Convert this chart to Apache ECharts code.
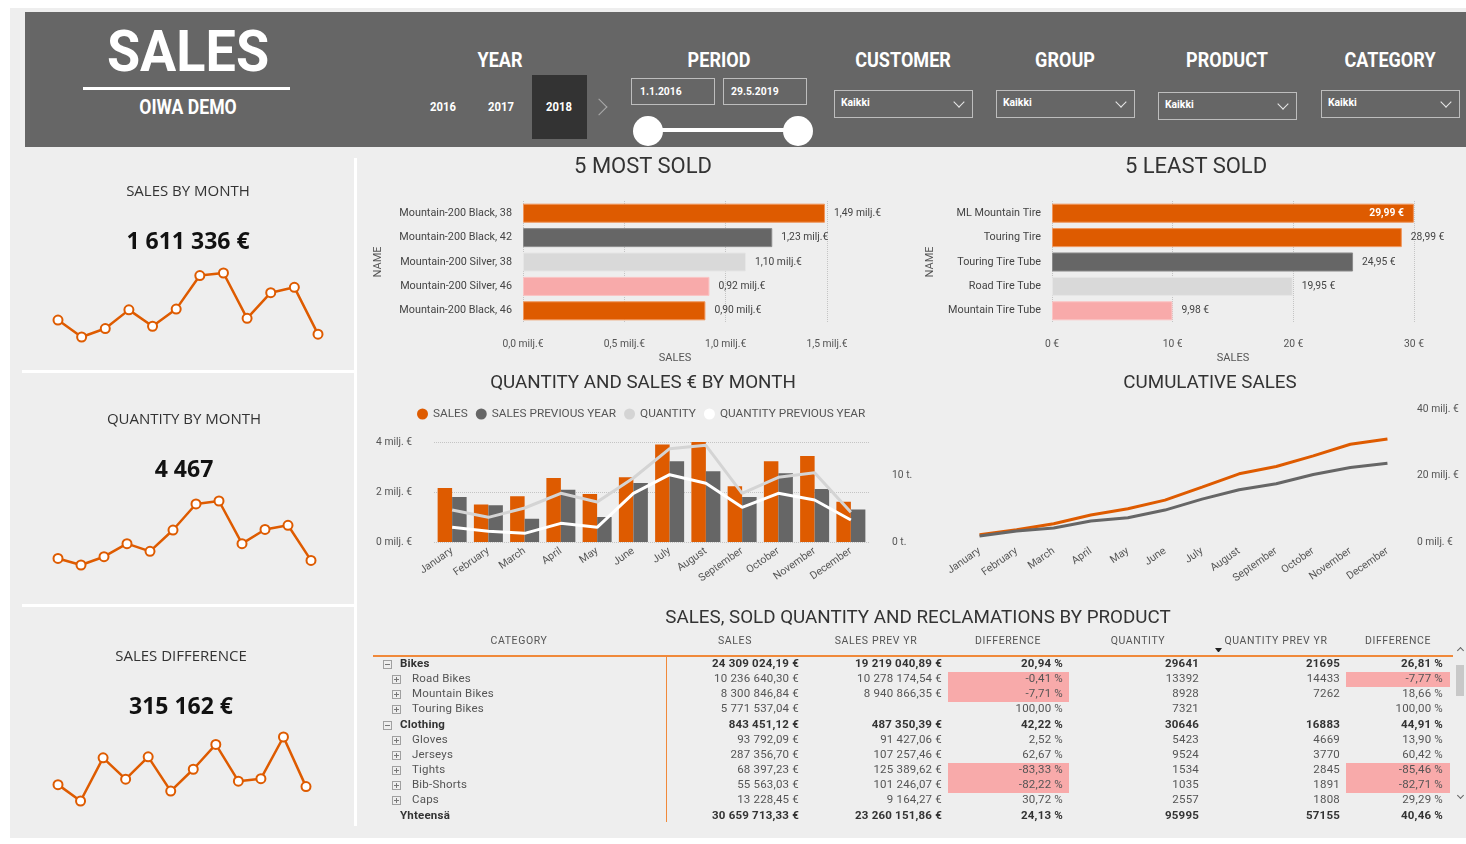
<!DOCTYPE html>
<html>
<head>
<meta charset="utf-8">
<title>SALES - OIWA DEMO</title>
<script src="https://cdn.jsdelivr.net/npm/echarts@6/dist/echarts.min.js"></script>
<style>
  html, body { margin: 0; padding: 0; background: #fff; }
  #page { position: relative; width: 1466px; height: 844px; overflow: hidden; font-family: Roboto, sans-serif; }
  #bg { position: absolute; left: 10px; top: 8px; width: 1456px; height: 830px; background: #eeeeee; }
  #chart { position: absolute; left: 0; top: 0; width: 1466px; height: 844px; }
  #overlay { position: absolute; left: 0; top: 0; width: 1466px; height: 844px; pointer-events: none; }
  .t { position: absolute; white-space: nowrap; line-height: 1; }
  .b { position: absolute; box-sizing: border-box; }
</style>
</head>
<body>
<div id="page">
  <div id="bg"></div>
  <div id="chart"></div>
  <div id="overlay"></div>
</div>
<script>
// ---- data ----
var months = ['January', 'February', 'March', 'April', 'May', 'June',
  'July', 'August', 'September', 'October', 'November', 'December'];

// milj. €
var salesByMonth = [2.16, 1.50, 1.83, 2.56, 1.92, 2.59, 3.90, 4.00, 2.23, 3.23, 3.44, 1.61];
var salesPrevByMonth = [1.80, 1.47, 0.93, 2.09, 1.00, 2.36, 3.23, 2.83, 1.80, 2.75, 2.12, 1.30];
var salesDiffByMonth = [0.36, 0.03, 0.90, 0.47, 0.92, 0.23, 0.67, 1.17, 0.43, 0.48, 1.32, 0.32];
// thousand pcs
var qtyByMonth = [4.8, 3.7, 5.1, 7.3, 6.0, 9.6, 14.0, 14.5, 7.3, 9.7, 10.4, 4.47];
var qtyPrevByMonth = [2.2, 1.6, 1.3, 2.8, 2.2, 7.3, 10.1, 8.8, 5.2, 7.3, 6.3, 3.3];
// milj. €
var cumSales = [2.2, 3.7, 5.5, 8.1, 10.0, 12.6, 16.5, 20.5, 22.7, 25.9, 29.4, 31.0];
var cumSalesPrev = [1.8, 3.3, 4.2, 6.3, 7.3, 9.6, 12.9, 15.7, 17.5, 20.3, 22.4, 23.7];

var mostSoldNames = ['Mountain-200 Black, 38', 'Mountain-200 Black, 42', 'Mountain-200 Silver, 38',
  'Mountain-200 Silver, 46', 'Mountain-200 Black, 46'];
var mostSoldValues = [1.49, 1.23, 1.10, 0.92, 0.90];
var leastSoldNames = ['ML Mountain Tire', 'Touring Tire', 'Touring Tire Tube', 'Road Tire Tube', 'Mountain Tire Tube'];
var leastSoldValues = [29.99, 28.99, 24.95, 19.95, 9.98];

var kpiTitles = ['SALES BY MONTH', 'QUANTITY BY MONTH', 'SALES DIFFERENCE'];
var kpiValues = ['1 611 336 €', '4 467', '315 162 €'];

var tableHeaders = ['CATEGORY', 'SALES', 'SALES PREV YR', 'DIFFERENCE', 'QUANTITY', 'QUANTITY PREV YR', 'DIFFERENCE'];
var tableRows = ['Bikes', 'Road Bikes', 'Mountain Bikes', 'Touring Bikes', 'Clothing', 'Gloves',
  'Jerseys', 'Tights', 'Bib-Shorts', 'Caps', 'Yhteensä'];
var tableLevel = [0, 1, 1, 1, 0, 1, 1, 1, 1, 1, 2];   // 2 = total row
var tableSales = [24309024.19, 10236640.30, 8300846.84, 5771537.04, 843451.12, 93792.09,
  287356.70, 68397.23, 55563.03, 13228.45, 30659713.33];
var tableSalesPrev = [19219040.89, 10278174.54, 8940866.35, null, 487350.39, 91427.06,
  107257.46, 125389.62, 101246.07, 9164.27, 23260151.86];
var tableSalesDiff = [20.94, -0.41, -7.71, 100.00, 42.22, 2.52, 62.67, -83.33, -82.22, 30.72, 24.13];
var tableQty = [29641, 13392, 8928, 7321, 30646, 5423, 9524, 1534, 1035, 2557, 95995];
var tableQtyPrev = [21695, 14433, 7262, null, 16883, 4669, 3770, 2845, 1891, 1808, 57155];
var tableQtyDiff = [26.81, -7.77, 18.66, 100.00, 44.91, 13.90, 60.42, -85.46, -82.71, 29.29, 40.46];

var headerLabels = ['YEAR', 'PERIOD', 'CUSTOMER', 'GROUP', 'PRODUCT', 'CATEGORY'];
var yearOptions = ['2016', '2017', '2018'];
var periodDates = ['1.1.2016', '29.5.2019'];

// ---- styles ----
var ORANGE = '#DE5B00';
var DARK = '#666666';
var LIGHT = '#D9D9D9';
var PINK = '#F8AAAA';
var mostColors = [ORANGE, DARK, LIGHT, PINK, ORANGE];
var leastColors = [ORANGE, ORANGE, DARK, LIGHT, PINK];
var borderOf = {};
borderOf[ORANGE] = '#F0955A'; borderOf[DARK] = '#8a8a8a'; borderOf[LIGHT] = '#e6e6e6'; borderOf[PINK] = '#fbc4c4';

// ---- overlay helpers ----
var layer = document.getElementById('overlay');

function text(str, x, y, css, anchor, extra) {
  var d = document.createElement('div');
  d.className = 't';
  d.textContent = str;
  d.style.cssText += css;
  d.style.left = x + 'px';
  d.style.top = y + 'px';
  var tx = anchor === 'left' ? '0' : anchor === 'right' ? '-100%' : '-50%';
  d.style.transform = 'translate(' + tx + ',-50%)' + (extra || '');
  if (anchor === 'left') d.style.transformOrigin = 'left center';
  if (anchor === 'right') d.style.transformOrigin = 'right center';
  layer.appendChild(d);
  return d;
}

function rect(x, y, w, h, css) {
  var d = document.createElement('div');
  d.className = 'b';
  d.style.cssText += css;
  d.style.left = x + 'px';
  d.style.top = y + 'px';
  d.style.width = w + 'px';
  d.style.height = h + 'px';
  layer.appendChild(d);
  return d;
}

function chevron(cx, cy, size, sides, color, rot) {
  var d = rect(cx - size / 2, cy - size / 2, size, size, sides.map(function (s) {
    return 'border-' + s + ':1.3px solid ' + color + ';';
  }).join(''));
  d.style.transform = 'rotate(' + rot + 'deg)';
}

// ---- header ----
var HEAD = 'font-family:Roboto;font-weight:700;color:#fff;';
rect(25, 12, 1441, 135, 'background:#666666;');
text('SALES', 188, 51, HEAD + 'font-size:58px;', 'center', ' scaleX(0.93)');
rect(83, 87, 207, 3, 'background:#fff;');
text('OIWA DEMO', 188, 107, HEAD + 'font-size:20px;', 'center', ' scaleX(0.88)');

var headerX = [500, 719, 903, 1065, 1227, 1390];
headerLabels.forEach(function (l, i) {
  text(l, headerX[i], 60, HEAD + 'font-size:20.5px;', 'center', ' scaleX(0.88)');
});

rect(532, 75, 55, 64, 'background:#333333;');
[443, 501, 559].forEach(function (x, i) {
  text(yearOptions[i], x, 107, HEAD + 'font-size:12.5px;', 'center', ' scaleX(0.9)');
});
chevron(599, 107, 12, ['top', 'right'], '#aaa', 45);

rect(631, 78, 84, 27, 'border:1px solid #bdbdbd;');
rect(723, 78, 84, 27, 'border:1px solid #bdbdbd;');
text(periodDates[0], 640, 92, HEAD + 'font-size:11.5px;', 'left', ' scaleX(0.9)');
text(periodDates[1], 731, 92, HEAD + 'font-size:11.5px;', 'left', ' scaleX(0.9)');
rect(648, 128, 150, 4, 'background:#fff;');
rect(633, 116, 30, 30, 'background:#fff;border-radius:50%;');
rect(783, 116, 30, 30, 'background:#fff;border-radius:50%;');

[[834, 90], [996, 90], [1158, 92], [1321, 90]].forEach(function (p) {
  rect(p[0], p[1], 139, 28, 'border:1px solid #bdbdbd;');
  text('Kaikki', p[0] + 7, p[1] + 13, HEAD + 'font-size:11.5px;', 'left', ' scaleX(0.9)');
  chevron(p[0] + 125, p[1] + 12, 8, ['right', 'bottom'], '#e8e8e8', 45);
});

// ---- left KPI panels ----
rect(354, 158, 3, 668, 'background:#fff;');
rect(22, 370, 332, 3, 'background:#fff;');
rect(22, 604, 332, 3, 'background:#fff;');
var kpiTitleY = [190, 418, 655];
var kpiTitleX = [188, 184, 181];
kpiTitles.forEach(function (t, i) {
  text(t, kpiTitleX[i], kpiTitleY[i], 'font-family:"Open Sans";font-size:15px;color:#333;', 'center');
  text(kpiValues[i], kpiTitleX[i], kpiTitleY[i] + 50, 'font-family:"Open Sans";font-weight:700;font-size:23px;color:#111;', 'center');
});

// ---- chart titles ----
var TITLE = 'font-family:Roboto;color:#333;';
text('5 MOST SOLD', 643, 166, TITLE + 'font-size:22px;', 'center');
text('5 LEAST SOLD', 1196, 166, TITLE + 'font-size:22px;', 'center');
text('QUANTITY AND SALES € BY MONTH', 643, 382, TITLE + 'font-size:18.8px;', 'center');
text('CUMULATIVE SALES', 1210, 382, TITLE + 'font-size:18.8px;', 'center');
text('SALES, SOLD QUANTITY AND RECLAMATIONS BY PRODUCT', 918, 617, TITLE + 'font-size:18.8px;', 'center');

// ---- table ----
function fmt(v, dec) {
  var parts = Math.abs(v).toFixed(dec).split('.');
  var whole = parts[0].replace(/\B(?=(\d{3})+(?!\d))/g, ' ');
  return (v < 0 ? '-' : '') + whole + (dec ? ',' + parts[1] : '');
}
var headerCx = [519, 735, 876, 1008, 1138, 1276, 1398];
tableHeaders.forEach(function (h, i) {
  text(h, headerCx[i], 641, 'font-family:Roboto;font-size:10.5px;letter-spacing:0.6px;color:#555;', 'center');
});
rect(1214.5, 648, 7, 4, 'border-left:3.5px solid transparent;border-right:3.5px solid transparent;border-top:4px solid #222;');
rect(373, 655, 1080, 2, 'background:#F0893A;');
rect(666, 657, 1, 165, 'background:#F0893A;');

var colRight = [799, 942, 1063, 1199, 1340, 1443];
var pinkCols = [[948, 121], [1346, 104]];
tableRows.forEach(function (name, r) {
  var y = 664 + r * 15.15;
  var lvl = tableLevel[r];
  var strong = lvl !== 1;
  var css = 'font-family:Roboto;font-size:11.5px;letter-spacing:0.2px;' +
    (strong ? 'font-weight:700;color:#333;' : 'color:#555;');
  if (lvl === 0 || lvl === 1) {
    var ix = lvl === 0 ? 383 : 392;
    rect(ix, y - 4, 9, 9, 'border:1px solid #a0a0a0;');
    rect(ix + 2, y, 5, 1, 'background:#777;');
    if (lvl === 1) rect(ix + 4, y - 2, 1, 5, 'background:#777;');
  }
  text(name, lvl === 1 ? 412 : 400, y, css, 'left');

  [tableSalesDiff, tableQtyDiff].forEach(function (arr, k) {
    if (arr[r] < 0) rect(pinkCols[k][0], y - 7.5, pinkCols[k][1], 15, 'background:' + PINK + ';');
  });
  var cells = [
    tableSales[r] == null ? '' : fmt(tableSales[r], 2) + ' €',
    tableSalesPrev[r] == null ? '' : fmt(tableSalesPrev[r], 2) + ' €',
    fmt(tableSalesDiff[r], 2) + ' %',
    tableQty[r] == null ? '' : String(tableQty[r]),
    tableQtyPrev[r] == null ? '' : String(tableQtyPrev[r]),
    fmt(tableQtyDiff[r], 2) + ' %'
  ];
  cells.forEach(function (c, k) {
    if (c) text(c, colRight[k], y, css, 'right');
  });
});
// scrollbar
chevron(1460, 650, 5, ['left', 'top'], '#666', 45);
rect(1456, 665, 8, 31, 'background:#c8c8c8;');
chevron(1460, 795, 5, ['right', 'bottom'], '#666', 45);

// ---- charts ----
var chart = echarts.init(document.getElementById('chart'));
var FONT = 'Roboto';
var axisLbl = { color: '#555', fontSize: 10.3, fontFamily: FONT };
var nameStyle = { color: '#555', fontSize: 11, fontFamily: FONT };
var dotted = { lineStyle: { type: 'dotted', color: '#c4c4c4', width: 1 } };
var off = { show: false };

function milj(v) { return v.toFixed(2).replace('.', ',') + ' milj.€'; }
function euro(v) { return v.toFixed(2).replace('.', ',') + ' €'; }

function sparkSeries(idx, data) {
  return {
    type: 'line', xAxisIndex: idx, yAxisIndex: idx, data: data,
    symbol: 'emptyCircle', symbolSize: 9, silent: true,
    lineStyle: { color: ORANGE, width: 2.5 },
    itemStyle: { color: ORANGE, borderColor: ORANGE, borderWidth: 2.5 }
  };
}
function sparkAxes(idx) {
  return {
    x: { type: 'category', gridIndex: idx, data: months, boundaryGap: false, show: false },
    y: { type: 'value', gridIndex: idx, min: 'dataMin', max: 'dataMax', show: false, scale: true }
  };
}
var s0 = sparkAxes(0), s1 = sparkAxes(1), s2 = sparkAxes(2);

function barData(values, colors) {
  return values.map(function (v, i) {
    return { value: v, itemStyle: { color: colors[i], borderColor: borderOf[colors[i]], borderWidth: 1 } };
  });
}
var leastData = barData(leastSoldValues, leastColors);
leastData[0].label = { position: 'insideRight', distance: 10, color: '#fff', fontWeight: 'bold' };

var monthAxis = function (idx) {
  return {
    type: 'category', gridIndex: idx, data: months,
    axisLine: off, axisTick: off,
    axisLabel: Object.assign({}, axisLbl, { rotate: 35, interval: 0, margin: 8, fontSize: 10.6 })
  };
};

var option = {
  animation: false,
  textStyle: { fontFamily: FONT },
  grid: [
    { left: 58, top: 273, width: 260, height: 64 },
    { left: 58, top: 501, width: 253, height: 64 },
    { left: 58, top: 737, width: 248, height: 64 },
    { left: 523, top: 201, width: 304, height: 122 },
    { left: 1052, top: 201, width: 362, height: 122 },
    { left: 434, top: 442, width: 435, height: 100 },
    { left: 961, top: 409, width: 445, height: 133 }
  ],
  legend: {
    data: ['SALES', 'SALES PREVIOUS YEAR', 'QUANTITY', 'QUANTITY PREVIOUS YEAR'],
    left: 417, top: 408, padding: 0, icon: 'circle',
    itemWidth: 11, itemHeight: 11, itemGap: 8, selectedMode: false,
    textStyle: { color: '#555', fontSize: 11.8, fontFamily: FONT }
  },
  xAxis: [
    s0.x, s1.x, s2.x,
    {
      type: 'value', gridIndex: 3, min: 0, max: 1.5, interval: 0.5,
      axisLine: off, axisTick: off, splitLine: dotted,
      axisLabel: Object.assign({ margin: 16, formatter: function (v) { return v.toFixed(1).replace('.', ',') + ' milj.€'; } }, axisLbl),
      name: 'SALES', nameLocation: 'middle', nameGap: 30, nameTextStyle: nameStyle
    },
    {
      type: 'value', gridIndex: 4, min: 0, max: 30, interval: 10,
      axisLine: off, axisTick: off, splitLine: dotted,
      axisLabel: Object.assign({ margin: 16, formatter: function (v) { return v + ' €'; } }, axisLbl),
      name: 'SALES', nameLocation: 'middle', nameGap: 30, nameTextStyle: nameStyle
    },
    monthAxis(5),
    monthAxis(6)
  ],
  yAxis: [
    s0.y, s1.y, s2.y,
    {
      type: 'category', gridIndex: 3, data: mostSoldNames, inverse: true,
      axisLine: off, axisTick: off,
      axisLabel: { color: '#444', fontSize: 10.8, fontFamily: FONT, margin: 11 },
      name: 'NAME', nameLocation: 'middle', nameGap: 139, nameRotate: 90, nameTextStyle: nameStyle
    },
    {
      type: 'category', gridIndex: 4, data: leastSoldNames, inverse: true,
      axisLine: off, axisTick: off,
      axisLabel: { color: '#444', fontSize: 10.8, fontFamily: FONT, margin: 11 },
      name: 'NAME', nameLocation: 'middle', nameGap: 116, nameRotate: 90, nameTextStyle: nameStyle
    },
    {
      type: 'value', gridIndex: 5, min: 0, max: 4, interval: 2,
      axisLine: off, axisTick: off, splitLine: dotted,
      axisLabel: Object.assign({ margin: 22, formatter: function (v) { return v + ' milj. €'; } }, axisLbl)
    },
    {
      type: 'value', gridIndex: 5, position: 'right', min: 0, max: 15, interval: 10,
      axisLine: off, axisTick: off, splitLine: off,
      axisLabel: Object.assign({ margin: 23, showMaxLabel: false, formatter: function (v) { return v + ' t.'; } }, axisLbl)
    },
    {
      type: 'value', gridIndex: 6, position: 'right', min: 0, max: 40, interval: 20,
      axisLine: off, axisTick: off, splitLine: off,
      axisLabel: Object.assign({ margin: 11, formatter: function (v) { return v + ' milj. €'; } }, axisLbl)
    }
  ],
  series: [
    sparkSeries(0, salesByMonth),
    sparkSeries(1, qtyByMonth),
    sparkSeries(2, salesDiffByMonth),
    {
      type: 'bar', xAxisIndex: 3, yAxisIndex: 3, barCategoryGap: '22%',
      data: barData(mostSoldValues, mostColors),
      label: { show: true, position: 'right', distance: 9, color: '#444', fontSize: 10.3, fontFamily: FONT,
        formatter: function (p) { return milj(p.value); } }
    },
    {
      type: 'bar', xAxisIndex: 4, yAxisIndex: 4, barCategoryGap: '22%',
      data: leastData,
      label: { show: true, position: 'right', distance: 9, color: '#444', fontSize: 10.3, fontFamily: FONT,
        formatter: function (p) { return euro(p.value); } }
    },
    {
      name: 'SALES', type: 'bar', xAxisIndex: 5, yAxisIndex: 5, data: salesByMonth,
      barGap: '0%', barCategoryGap: '20%', itemStyle: { color: ORANGE }
    },
    {
      name: 'SALES PREVIOUS YEAR', type: 'bar', xAxisIndex: 5, yAxisIndex: 5, data: salesPrevByMonth,
      barGap: '0%', barCategoryGap: '20%', itemStyle: { color: DARK }
    },
    {
      name: 'QUANTITY', type: 'line', xAxisIndex: 5, yAxisIndex: 6, data: qtyByMonth,
      symbol: 'none', lineStyle: { color: '#D4D4D4', width: 3 }, itemStyle: { color: '#D4D4D4' }
    },
    {
      name: 'QUANTITY PREVIOUS YEAR', type: 'line', xAxisIndex: 5, yAxisIndex: 6, data: qtyPrevByMonth,
      symbol: 'none', lineStyle: { color: '#ffffff', width: 3 }, itemStyle: { color: '#ffffff' }
    },
    {
      name: 'CUMULATIVE SALES', type: 'line', xAxisIndex: 6, yAxisIndex: 7, data: cumSales,
      symbol: 'none', lineStyle: { color: ORANGE, width: 3 }, itemStyle: { color: ORANGE }
    },
    {
      name: 'CUMULATIVE SALES PREVIOUS YEAR', type: 'line', xAxisIndex: 6, yAxisIndex: 7, data: cumSalesPrev,
      symbol: 'none', lineStyle: { color: DARK, width: 3 }, itemStyle: { color: DARK }
    }
  ]
};
chart.setOption(option);
</script>
</body>
</html>
